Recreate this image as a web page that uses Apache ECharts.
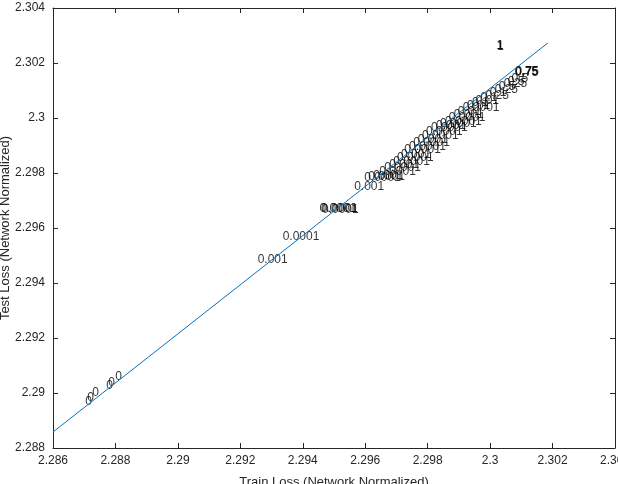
<!DOCTYPE html>
<html>
<head>
<meta charset="utf-8">
<script src="https://cdn.jsdelivr.net/npm/echarts@6/dist/echarts.min.js"></script>
<style>
  html, body { margin: 0; padding: 0; background: #fff; }
  #chart { width: 618px; height: 484px; }
</style>
</head>
<body>
<div id="chart"></div>
<script>
// train / test loss per run, label = regularisation strength
const trainLoss = [
  2.28702, 2.28708, 2.28724, 2.28769, 2.28775, 2.28798,
  2.29254, 2.29334, 2.29452, 2.29457, 2.29460, 2.29563,
  2.29595, 2.29608, 2.29624, 2.29643, 2.29659, 2.29675, 2.29688, 2.29700,
  2.29713, 2.29723, 2.29739, 2.29752, 2.29767, 2.29780, 2.29793, 2.29809,
  2.29825, 2.29838, 2.29854, 2.29866, 2.29882, 2.29895, 2.29911, 2.29924,
  2.29940, 2.29952, 2.29968, 2.29984, 2.29997, 2.30013, 2.30026, 2.30042,
  2.30055, 2.30067, 2.30077, 2.30078, 2.30080, 2.30019, 2.30020, 2.30021
];
const testLoss = [
  2.28967, 2.28982, 2.29000, 2.29026, 2.29036, 2.29058,
  2.29484, 2.29567, 2.29669, 2.29670, 2.29668, 2.29749,
  2.29782, 2.29785, 2.29789, 2.29804, 2.29818, 2.29829, 2.29840, 2.29855,
  2.29865, 2.29884, 2.29895, 2.29909, 2.29920, 2.29935, 2.29949, 2.29964,
  2.29971, 2.29978, 2.29985, 2.30000, 2.30011, 2.30022, 2.30036, 2.30044,
  2.30055, 2.30062, 2.30073, 2.30080, 2.30091, 2.30102, 2.30113, 2.30124,
  2.30131, 2.30142, 2.30167, 2.30166, 2.30168, 2.30262, 2.30263, 2.30261
];
const runLabels = [
  "0", "0", "0", "0", "0", "0",
  "0.001", "0.0001", "0.0001", "0.0001", "0.0001", "0.001",
  "0.0001", "0.0001", "0.001", "0.0001", "0.0001", "0.001", "0.0001", "0.0001",
  "0.001", "0.0001", "0.0001", "0.0001", "0.001", "0.0001", "0.0001", "0.0001",
  "0.001", "0.0001", "0.0001", "0.0001", "0.001", "0.01", "0.0001", "0.01",
  "0.1", "0.01", "0.1", "0.25", "0.1", "0.25", "0.5", "0.25",
  "0.5", "0.5", "0.75", "0.75", "0.75", "1", "1", "1"
];

// fitted line
const fitX = [2.286, 2.30185];
const fitY = [2.28858, 2.30273];

const xTicks = { min: 2.286, max: 2.304, interval: 0.002 };
const yTicks = { min: 2.288, max: 2.304, interval: 0.002 };

const myChart = echarts.init(document.getElementById("chart"));

const axisColor = "#262626";
const font = "'Liberation Sans', Arial, sans-serif";
const fmt = (v) => String(parseFloat(v.toFixed(3)));

const option = {
  animation: false,
  grid: { left: 53, right: 3, top: 8, bottom: 36, containLabel: false, outerBoundsMode: "none" },
  xAxis: [
    {
      type: "value",
      min: xTicks.min, max: xTicks.max, interval: xTicks.interval,
      name: "Train Loss (Network Normalized)",
      nameLocation: "middle",
      nameGap: 28,
      nameMoveOverlap: false,
      nameTextStyle: { color: axisColor, fontSize: 13, fontFamily: font },
      axisLine: { lineStyle: { color: axisColor, width: 1 } },
      axisTick: { inside: true, length: 5, lineStyle: { color: axisColor } },
      axisLabel: { color: axisColor, fontSize: 12, fontFamily: font, margin: 7, formatter: fmt, showMinLabel: true, showMaxLabel: true },
      splitLine: { show: false }
    },
    {
      type: "value", position: "top",
      min: xTicks.min, max: xTicks.max, interval: xTicks.interval,
      axisLine: { lineStyle: { color: axisColor, width: 1 } },
      axisTick: { inside: true, length: 5, lineStyle: { color: axisColor } },
      axisLabel: { show: false },
      splitLine: { show: false }
    }
  ],
  yAxis: [
    {
      type: "value",
      min: yTicks.min, max: yTicks.max, interval: yTicks.interval,
      name: "Test Loss (Network Normalized)",
      nameLocation: "middle",
      nameGap: 41,
      nameMoveOverlap: false,
      nameTextStyle: { color: axisColor, fontSize: 13, fontFamily: font },
      axisLine: { lineStyle: { color: axisColor, width: 1 } },
      axisTick: { inside: true, length: 5, lineStyle: { color: axisColor } },
      axisLabel: { color: axisColor, fontSize: 12, fontFamily: font, margin: 8, formatter: fmt },
      splitLine: { show: false }
    },
    {
      type: "value", position: "right",
      min: yTicks.min, max: yTicks.max, interval: yTicks.interval,
      axisLine: { lineStyle: { color: axisColor, width: 1 } },
      axisTick: { inside: true, length: 5, lineStyle: { color: axisColor } },
      axisLabel: { show: false },
      splitLine: { show: false }
    }
  ],
  series: [
    {
      type: "line",
      data: fitX.map((x, i) => [x, fitY[i]]),
      showSymbol: false,
      lineStyle: { color: "#0072BD", width: 1 },
      z: 3
    },
    {
      type: "scatter",
      data: trainLoss.map((x, i) => [x, testLoss[i]]),
      symbolSize: 1,
      itemStyle: { color: "rgba(0,0,0,0)" },
      label: {
        show: true,
        position: "right",
        distance: 0,
        color: "#000",
        fontSize: 12,
        fontFamily: font,
        formatter: (p) => runLabels[p.dataIndex]
      },
      z: 2
    }
  ]
};

myChart.setOption(option);
</script>
</body>
</html>
